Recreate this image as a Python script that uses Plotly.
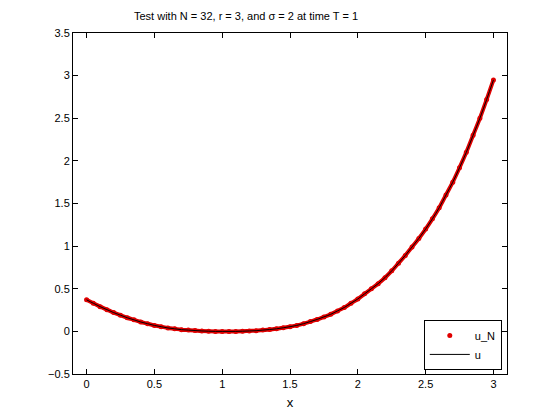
import plotly.graph_objects as go

# values
x_vals = [0.00, 0.05, 0.10, 0.15, 0.20, 0.25, 0.30, 0.35, 0.40, 0.45,
          0.50, 0.55, 0.60, 0.65, 0.70, 0.75, 0.80, 0.85, 0.90, 0.95,
          1.00, 1.05, 1.10, 1.15, 1.20, 1.25, 1.30, 1.35, 1.40, 1.45,
          1.50, 1.55, 1.60, 1.65, 1.70, 1.75, 1.80, 1.85, 1.90, 1.95,
          2.00, 2.05, 2.10, 2.15, 2.20, 2.25, 2.30, 2.35, 2.40, 2.45,
          2.50, 2.55, 2.60, 2.65, 2.70, 2.75, 2.80, 2.85, 2.90, 2.95, 3.00]
u_N = [0.370, 0.330, 0.290, 0.255, 0.220, 0.190, 0.160, 0.135, 0.110, 0.090,
       0.070, 0.055, 0.040, 0.030, 0.020, 0.015, 0.010, 0.005, 0.002, 0.000,
       0.000, 0.000, 0.000, 0.002, 0.005, 0.008, 0.015, 0.022, 0.030, 0.042,
       0.055, 0.070, 0.090, 0.115, 0.140, 0.170, 0.200, 0.240, 0.280, 0.330,
       0.380, 0.440, 0.500, 0.560, 0.630, 0.710, 0.800, 0.890, 0.990, 1.090,
       1.200, 1.320, 1.450, 1.600, 1.750, 1.920, 2.100, 2.300, 2.500, 2.720, 2.950]
u_exact = list(u_N)

y_ticks = [-0.5, 0, 0.5, 1, 1.5, 2, 2.5, 3, 3.5]
x_ticks = [0, 0.5, 1, 1.5, 2, 2.5, 3]

font = "Liberation Sans, Arial, Helvetica, sans-serif"

fig = go.Figure()

# thick red band under the dots (the reference dots are so dense they merge)
fig.add_trace(go.Scatter(
    x=x_vals, y=u_N, mode="lines",
    line=dict(color="#e00000", width=4, shape="spline"),
    showlegend=False, hoverinfo="skip"
))
fig.add_trace(go.Scatter(
    x=x_vals, y=u_N, mode="markers", name="u_N",
    marker=dict(color="#e00000", size=5, symbol="circle")
))
fig.add_trace(go.Scatter(
    x=x_vals, y=u_exact, mode="lines", name="u",
    line=dict(color="black", width=1, shape="spline")
))

axis_style = dict(
    showline=True, linecolor="black", linewidth=1, mirror="ticks",
    ticks="inside", ticklen=5, tickcolor="black", showgrid=False,
    zeroline=False, automargin=False,
    tickfont=dict(family=font, size=11, color="black")
)

# the page body has an 8px margin, so the figure is sized/shifted to fit
fig.update_layout(
    width=544, height=404,
    margin=dict(l=65, r=45, t=25, b=38),
    paper_bgcolor="white", plot_bgcolor="white",
    font=dict(family=font, size=11, color="black"),
    title=dict(text="Test with N = 32, r = 3, and σ = 2 at time T = 1",
               x=(246 - 8) / 544, xref="container", xanchor="center",
               y=1 - 8 / 404, yref="container", yanchor="middle",
               font=dict(family=font, size=11, color="black")),
    legend=dict(x=0.988, y=0.012, xanchor="right", yanchor="bottom",
                bordercolor="black", borderwidth=1, bgcolor="white",
                font=dict(family=font, size=11, color="black"),
                itemwidth=40, tracegroupgap=0),
    showlegend=True
)
fig.update_xaxes(range=[-0.1, 3.1], tickvals=x_ticks,
                 title=dict(text="x", standoff=8), **axis_style)
fig.update_yaxes(range=[-0.5, 3.5], tickvals=y_ticks, **axis_style)

fig.write_html("out.html")
